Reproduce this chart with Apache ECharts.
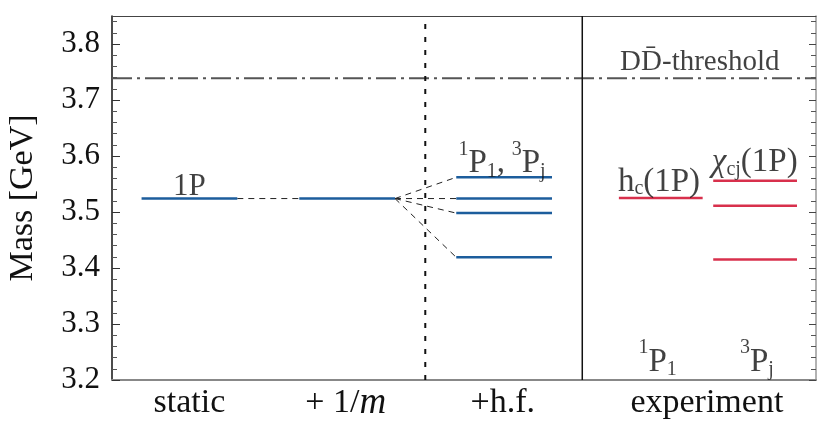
<!DOCTYPE html>
<html><head><meta charset="utf-8">
<script src="https://cdn.jsdelivr.net/npm/echarts@6/dist/echarts.min.js"></script>
<style>html,body{margin:0;padding:0;background:#fff}#c{width:830px;height:428px}</style>
</head><body><div id="c"></div>
<script>
// ---- data ----
const columnNames = ['static', '+1/m', '+h.f.', 'experiment'];
const staticLevels = [3.524];
const oneOverMLevels = [3.524];
const hfLevels = [3.562, 3.524, 3.498, 3.419];
const hcLevels = [3.525];
const chiLevels = [3.556, 3.511, 3.415];
const thresholdMass = 3.739;
const yTickValues = [3.2, 3.3, 3.4, 3.5, 3.6, 3.7, 3.8];
const yMinorTickValues = [3.22,3.24,3.26,3.28,3.32,3.34,3.36,3.38,3.42,3.44,3.46,3.48,
  3.52,3.54,3.56,3.58,3.62,3.64,3.66,3.68,3.72,3.74,3.76,3.78,3.82,3.84];

// ---- layout (x in axis units 0..10) ----
const L = { st:[0.42,1.78], om:[2.66,4.02], hf:[4.89,6.25], hc:[7.20,8.39], chi:[8.54,9.73], dotted:4.45, solid:6.68 };
const xLabelPos = [1.10, 3.32, 5.55, 8.45];
const Y0 = 3.2, Y1 = 3.85;

const F = '"Liberation Serif", "Times New Roman", serif';
const TXT = '#111';
const BLUE = '#1c5d9c', RED = '#d8304c';

function richSet(fs, lh, subPad) {
  return {
    r:  {fontFamily:F, fontSize:fs, lineHeight:lh, color:TXT},
    i:  {fontFamily:F, fontSize:fs, lineHeight:lh, color:TXT, fontStyle:'italic'},
    sp: {fontFamily:F, fontSize:20, lineHeight:20, color:TXT, verticalAlign:'top'},
    sb: {fontFamily:F, fontSize:20, lineHeight:20, color:TXT, verticalAlign:'bottom', padding:[0,0,subPad,0]}
  };
}

function seg(x0, y0, x1, y1, ls, z) {
  return {type:'line', data:[[x0,y0],[x1,y1]], symbol:'none', silent:true, animation:false,
    clip:false, lineStyle:ls, z:z || 2};
}
const series = [];
const levelStyle = c => ({color:c, width:2.5});
const dashStyle = {color:'#222', width:1, type:[6,5]};

staticLevels.forEach(v => series.push(seg(L.st[0], v, L.st[1], v, levelStyle(BLUE), 3)));
oneOverMLevels.forEach(v => series.push(seg(L.om[0], v, L.om[1], v, levelStyle(BLUE), 3)));
hfLevels.forEach(v => series.push(seg(L.hf[0], v, L.hf[1], v, levelStyle(BLUE), 3)));
hcLevels.forEach(v => series.push(seg(L.hc[0], v, L.hc[1], v, levelStyle(RED), 3)));
chiLevels.forEach(v => series.push(seg(L.chi[0], v, L.chi[1], v, levelStyle(RED), 3)));
// connectors
series.push(seg(L.st[1], staticLevels[0], L.om[0], oneOverMLevels[0], dashStyle));
hfLevels.forEach(v => series.push(seg(L.om[1], oneOverMLevels[0], L.hf[0], v, dashStyle)));
// threshold
series.push(seg(0, thresholdMass, 10, thresholdMass, {color:'#555', width:2, type:[20,5,3,5]}));
// dividers
series.push(seg(L.dotted, Y0, L.dotted, Y1, {color:'#111', width:2, type:[5,8]}));
series.push(seg(L.solid, Y0, L.solid, Y1, {color:'#111', width:1.5}));

// text labels
const labels = [
  {pos:[1.10, staticLevels[0]], text:'{r|1P}', d:-4, fs:31, lh:31, sp:0},
  {pos:[5.54, hfLevels[0]], text:'{sp|1}{r|P}{sb|1}{r|,\u2009}{sp|3}{r|P}{sb|j}', d:-11, fs:33, lh:49, sp:7},
  {pos:[8.35, thresholdMass], text:'{r|DD\u0304-threshold}', d:1, fs:29, lh:29, sp:0},
  {pos:[7.77, hcLevels[0]], text:'{r|h}{sb|c}{r|(1P)}', d:-1, fs:33, lh:34, sp:0},
  {pos:[9.13, chiLevels[0]], text:'{i|\u03c7}{sb|cj}{r|(1P)}', d:1, fs:33, lh:34, sp:0},
  {pos:[7.75, Y0], text:'{sp|1}{r|P}{sb|1}', d:-7, fs:33, lh:49, sp:7},
  {pos:[9.16, Y0], text:'{sp|3}{r|P}{sb|j}', d:-7, fs:33, lh:49, sp:7}
];
series.push({
  type:'scatter', symbolSize:0, silent:true, animation:false, z:5,
  data: labels.map(l => ({value:l.pos, label:{show:true, position:'top', distance:l.d, formatter:l.text, rich:richSet(l.fs, l.lh, l.sp)}}))
});

const xRich = {
  a:  {fontFamily:F, fontSize:34, lineHeight:36, color:TXT},
  ai: {fontFamily:F, fontSize:37, lineHeight:36, color:TXT, fontStyle:'italic'}
};
const xFormats = ['{a|static}', '{a|+ 1/}{ai|m}', '{a|+h.f.}', '{a|experiment}'];

const chart = echarts.init(document.getElementById('c'), null, {renderer:'canvas'});
chart.setOption({
  animation:false,
  backgroundColor:'#fff',
  grid:{left:112, right:14, top:16, bottom:48, outerBoundsMode:'none', containLabel:false},
  xAxis:[
    {type:'value', min:0, max:10, position:'bottom',
     axisLine:{onZero:false, lineStyle:{color:'#888', width:2}},
     axisTick:{show:false}, splitLine:{show:false},
     axisLabel:{customValues:xLabelPos, margin:5, rich:xRich,
       formatter:v => { let k=0; xLabelPos.forEach((p,i)=>{ if(Math.abs(p-v)<Math.abs(xLabelPos[k]-v)) k=i; }); return xFormats[k]; }}},
    {type:'value', min:0, max:10, position:'top',
     axisLine:{onZero:false, lineStyle:{color:'#444', width:1}},
     axisTick:{show:false}, axisLabel:{show:false}, splitLine:{show:false}}
  ],
  yAxis:[
    {type:'value', min:Y0, max:Y1, position:'left',
     name:'Mass [GeV]', nameLocation:'middle', nameRotate:90, nameGap:72,
     nameTextStyle:{fontFamily:F, fontSize:34, color:TXT},
     axisLine:{onZero:false, lineStyle:{color:'#111', width:1.5}},
     axisTick:{inside:true, length:8, customValues:yTickValues, lineStyle:{color:'#333'}},
     axisLabel:{customValues:yTickValues, margin:12, fontFamily:F, fontSize:31, color:TXT, formatter:v => v.toFixed(1)},
     splitLine:{show:false}},
    {type:'value', min:Y0, max:Y1, position:'left',
     axisLine:{show:false, onZero:false},
     axisTick:{inside:true, length:5, customValues:yMinorTickValues, lineStyle:{color:'#555'}},
     axisLabel:{show:false}, splitLine:{show:false}},
    {type:'value', min:Y0, max:Y1, position:'right',
     axisLine:{onZero:false, lineStyle:{color:'#999', width:1.5}},
     axisTick:{inside:true, length:7, customValues:yTickValues, lineStyle:{color:'#444'}},
     axisLabel:{show:false}, splitLine:{show:false}},
    {type:'value', min:Y0, max:Y1, position:'right',
     axisLine:{show:false, onZero:false},
     axisTick:{inside:true, length:5, customValues:yMinorTickValues, lineStyle:{color:'#555'}},
     axisLabel:{show:false}, splitLine:{show:false}}
  ],
  series: series
});
</script></body></html>
